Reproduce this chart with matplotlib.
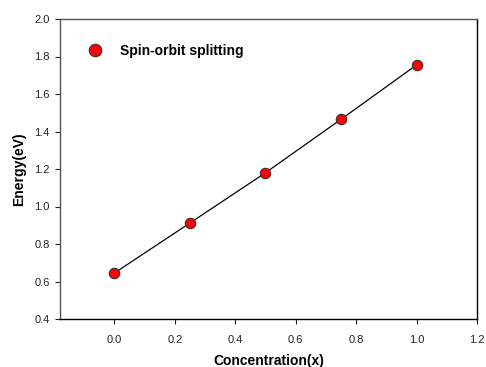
import matplotlib
matplotlib.use("Agg")
import matplotlib.pyplot as plt

plt.rcParams['font.family'] = ['Liberation Sans', 'DejaVu Sans']

concentration = [0.0, 0.25, 0.5, 0.75, 1.0]
energy = [0.645, 0.912, 1.18, 1.465, 1.755]
series_label = "Spin-orbit splitting"
xticks = [0.0, 0.2, 0.4, 0.6, 0.8, 1.0, 1.2]
yticks = [0.4, 0.6, 0.8, 1.0, 1.2, 1.4, 1.6, 1.8, 2.0]

fig = plt.figure(figsize=(4.86, 3.67), dpi=100)
ax = fig.add_axes([60 / 486, 1 - 319 / 367, 417 / 486, 300 / 367])

ax.plot(concentration, energy, color="black", linewidth=0.9, zorder=2)
ax.plot(concentration, energy, linestyle="none", marker="o", markersize=7.5,
        markerfacecolor="#ff0000", markeredgecolor="#333333", markeredgewidth=0.8,
        zorder=3, label=series_label)

ax.set_xlim(-0.18, 1.2)
ax.set_ylim(0.4, 2.0)
ax.set_xticks(xticks)
ax.set_yticks(yticks)
ax.set_xticklabels([f"{t:.1f}" for t in xticks])
ax.set_yticklabels([f"{t:.1f}" for t in yticks])
ax.tick_params(direction="out", length=3.5, width=0.8, labelsize=8, colors="#222222")
ax.tick_params(axis="x", pad=8)
ax.tick_params(axis="y", pad=4)

for side in ["top", "left"]:
    ax.spines[side].set_color("#555555")
    ax.spines[side].set_linewidth(1.0)
for side in ["bottom", "right"]:
    ax.spines[side].set_color("black")
    ax.spines[side].set_linewidth(1.0)

ax.set_xlabel("Concentration(x)", fontsize=10, fontweight="bold")
ax.set_ylabel("Energy(eV)", fontsize=10, fontweight="bold")
ax.xaxis.set_label_coords(0.5, -0.118)
ax.yaxis.set_label_coords(-0.082, 0.5)

ax.legend(loc="upper left", bbox_to_anchor=(0.02, 0.96), frameon=False,
          prop={"size": 10, "weight": "bold"}, handletextpad=0.8, markerscale=1.2)

fig.savefig("out.png", dpi=100)
